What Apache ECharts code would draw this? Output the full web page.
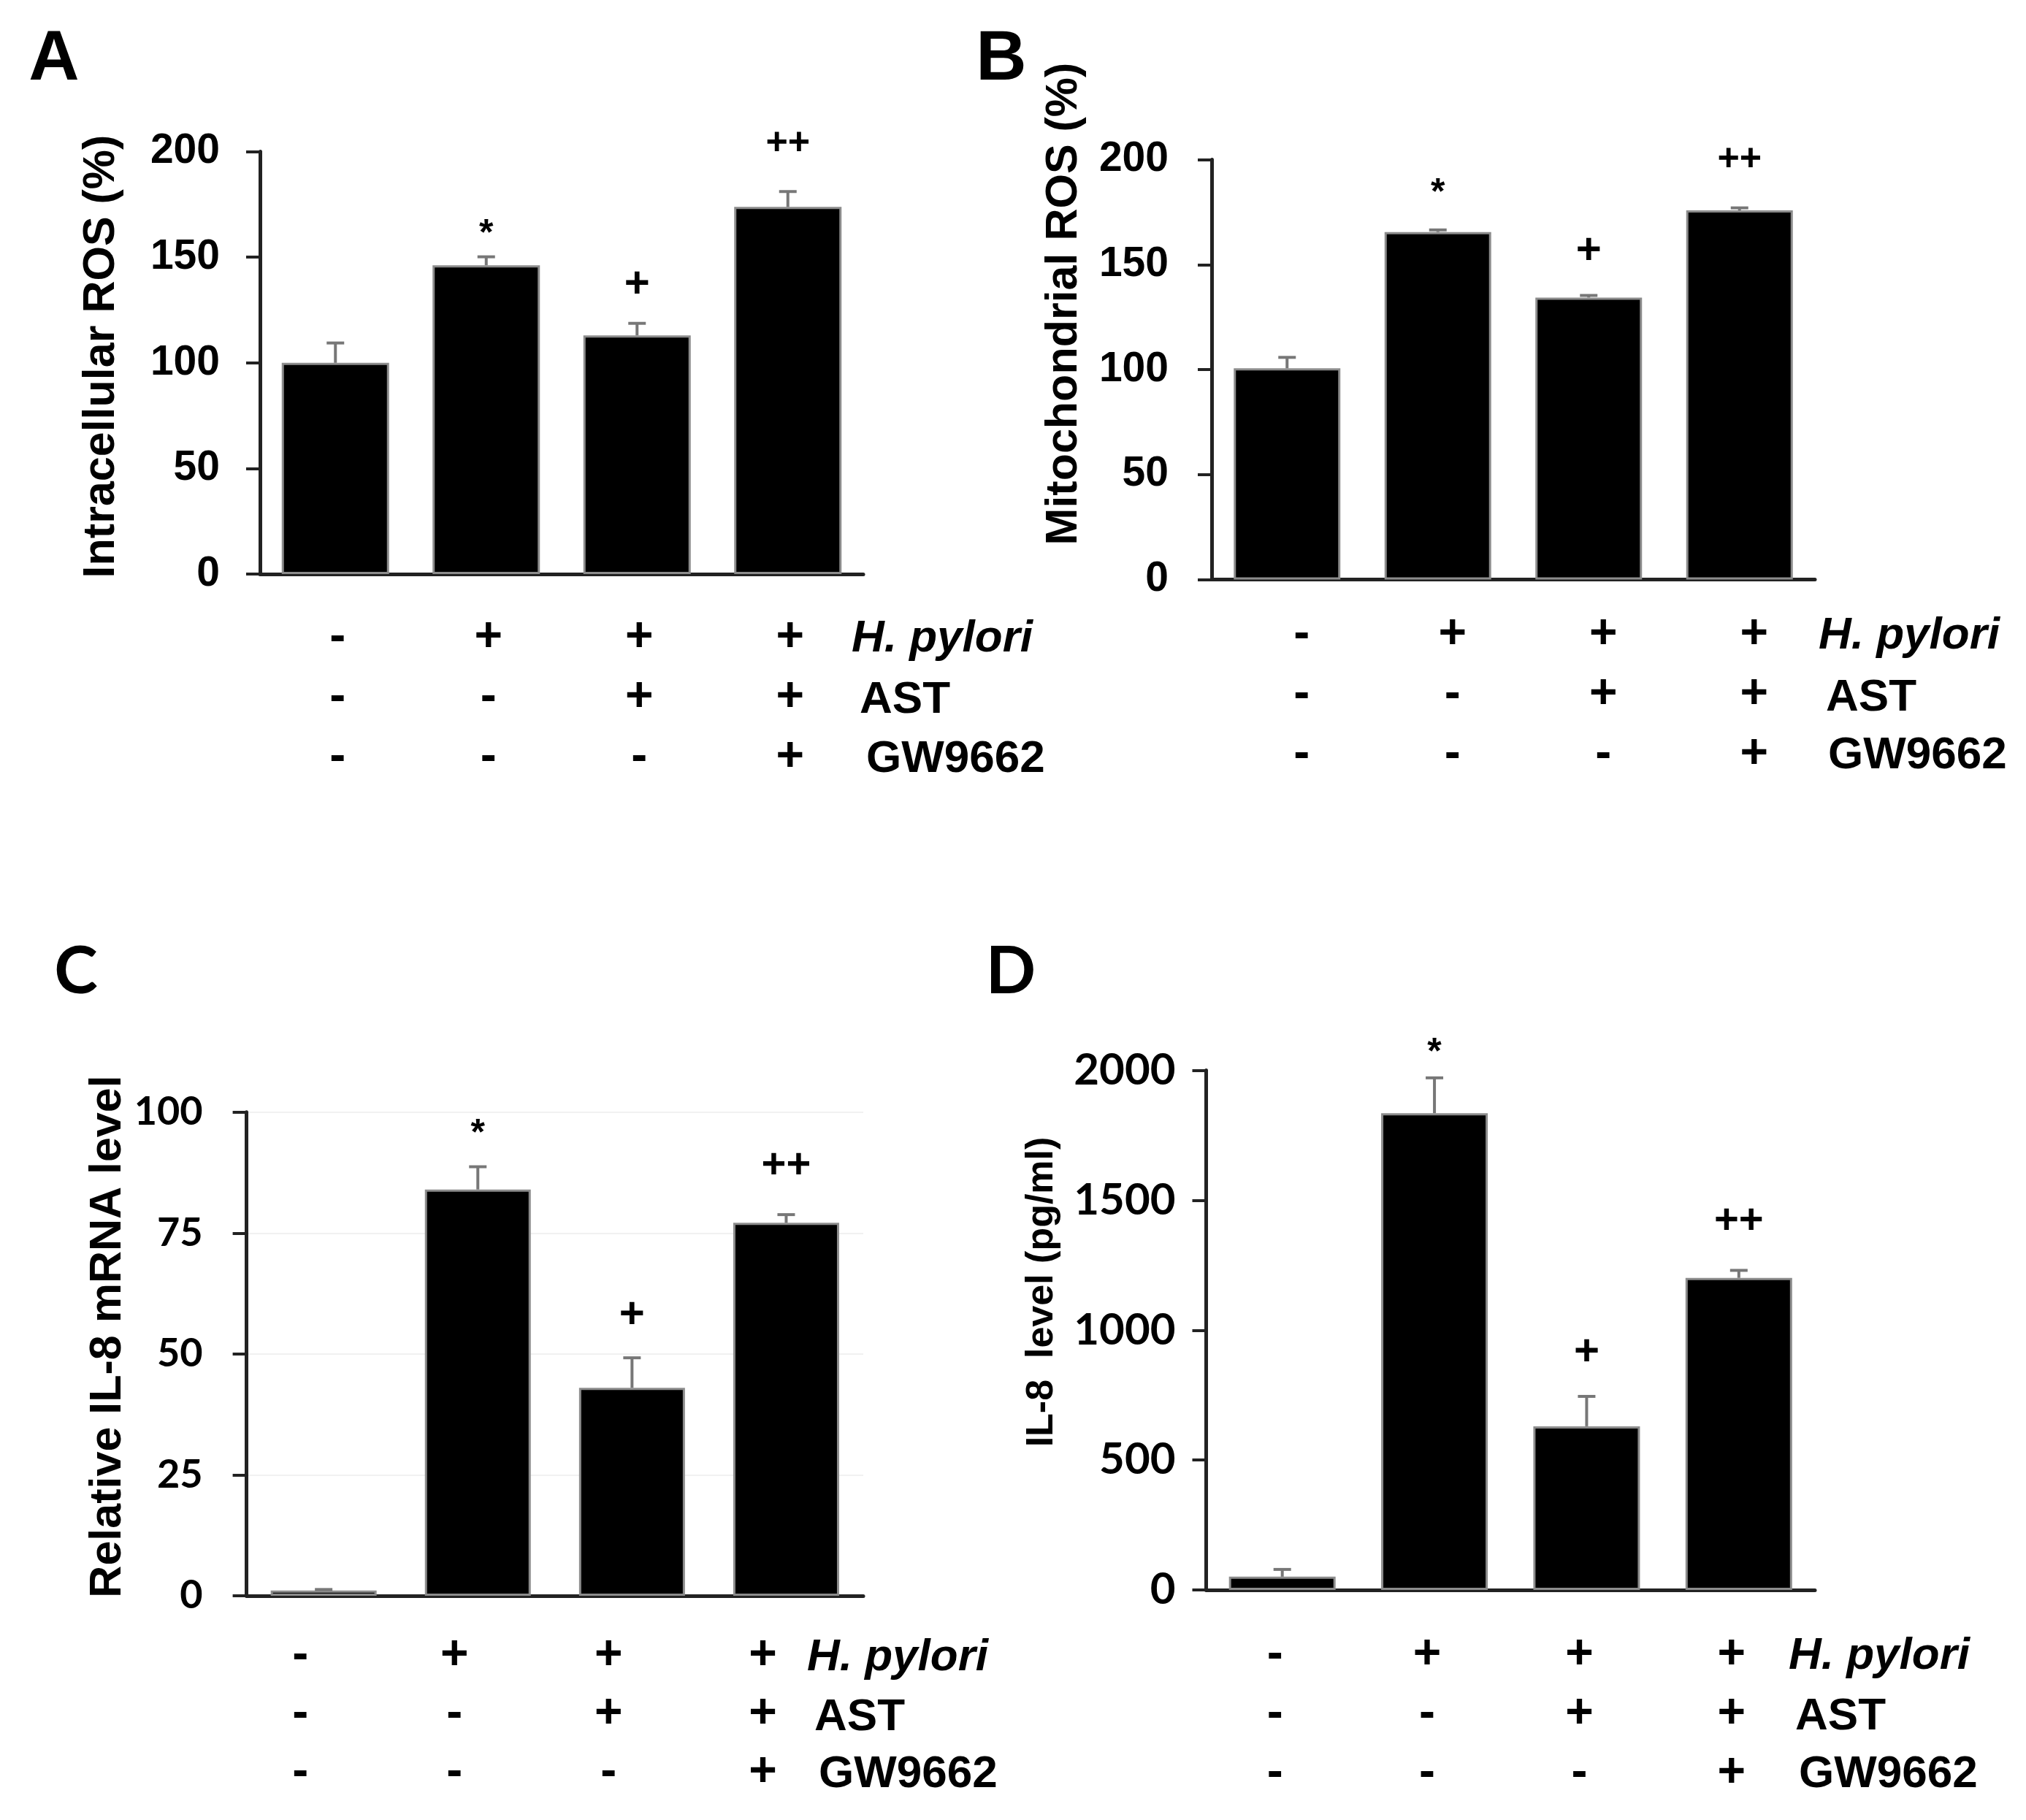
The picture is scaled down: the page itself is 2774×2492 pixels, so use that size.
<!DOCTYPE html>
<html>
<head>
<meta charset="utf-8">
<script src="https://cdn.jsdelivr.net/npm/echarts@6/dist/echarts.min.js"></script>
<style>
html,body{margin:0;padding:0;background:#fff;}
#chart{width:2774px;height:2492px;}
</style>
</head>
<body>
<div id="chart"></div>
<script>
// ---------- data ----------
const categories = ['Control', 'H. pylori', 'H. pylori + AST', 'H. pylori + AST + GW9662'];
const hpRow  = ['-', '+', '+', '+'];
const astRow = ['-', '-', '+', '+'];
const gwRow  = ['-', '-', '-', '+'];
const rowNames = ['H. pylori', 'AST', 'GW9662'];
const sigMarks = ['', '*', '+', '++'];

const intraROS       = [100, 146.2, 113, 173.8];
const intraROSErr    = [9.4, 4, 5.7, 7.3];
const mitoROS        = [100.6, 165.5, 134.3, 175.8];
const mitoROSErr     = [5.2, 1, 1, 1.2];
const il8mRNA        = [1.1, 84, 43, 77.1];
const il8mRNAErr     = [0.2, 4.7, 6.2, 1.7];
const il8Protein     = [51, 1835, 630, 1201];
const il8ProteinErr  = [28, 136, 115, 29];

const panelLetters = ['A', 'B', 'C', 'D'];
const yTitles = ['Intracellular ROS (%)', 'Mitochondrial ROS (%)', 'Relative IL-8 mRNA level', 'IL-8  level (pg/ml)'];
const yMax = [200, 200, 100, 2000];
const yInterval = [50, 50, 25, 500];

// ---------- layout / style ----------
const ARIAL = 'Liberation Sans, Arial, sans-serif';
const CALI = 'Lato, Liberation Sans, sans-serif';
const panels = [
  {values: intraROS, errs: intraROSErr, grid: {left: 356, top: 207.6, width: 826, height: 578.4}, barWidth: 147,
   tickFont: ARIAL, tickSize: 57, tickWeight: 'bold', tickMargin: 55, xMargin: 46, lineH: 82, dx: 3,
   letter: {x: 74, y: 83, font: 'bold 96px ' + ARIAL},
   ytitle: {x: 139, y: 488, font: 'bold 61px ' + ARIAL},
   rowLeft: [1166, 1177, 1186], rowY: [875, 959, 1040], ppSize: 52, starGap: 30, plusGap: 52},
  {values: mitoROS, errs: mitoROSErr, grid: {left: 1659, top: 218.5, width: 826, height: 575}, barWidth: 146,
   tickFont: ARIAL, tickSize: 57, tickWeight: 'bold', tickMargin: 59, xMargin: 34, lineH: 82, dx: 20,
   letter: {x: 1371, y: 83, font: 'bold 96px ' + ARIAL},
   ytitle: {x: 1457, y: 416, font: 'bold 61px ' + ARIAL},
   rowLeft: [2490, 2500, 2503], rowY: [871, 956, 1035], ppSize: 52, starGap: 50, plusGap: 60},
  {values: il8mRNA, errs: il8mRNAErr, grid: {left: 337.6, top: 1522.7, width: 844.4, height: 662.3}, barWidth: 145,
   tickFont: CALI, tickSize: 54, tickWeight: 'bold', tickMargin: 60, xMargin: 42, lineH: 80, dx: -32,
   letter: {x: 104, y: 1331, font: 'bold 90px ' + CALI},
   ytitle: {x: 148, y: 1830, font: 'bold 61px ' + ARIAL},
   rowLeft: [1105, 1115, 1121], rowY: [2270, 2352, 2430], ppSize: 58, starGap: 44, plusGap: 58},
  {values: il8Protein, errs: il8ProteinErr, grid: {left: 1651.5, top: 1465.5, width: 833.5, height: 711.5}, barWidth: 146,
   tickFont: CALI, tickSize: 60, tickWeight: 'bold', tickMargin: 42, xMargin: 48, lineH: 81, dx: -10,
   letter: {x: 1384, y: 1331, font: 'bold 90px ' + CALI},
   ytitle: {x: 1427, y: 1769, font: 'bold 52px ' + ARIAL},
   rowLeft: [2449, 2458, 2463], rowY: [2268, 2351, 2430], ppSize: 58, starGap: 34, plusGap: 60}
];

const grids = [], xAxes = [], yAxes = [], series = [], graphics = [];
panels.forEach((p, k) => {
  grids.push(Object.assign({containLabel: false}, p.grid));
  xAxes.push({
    gridIndex: k, type: 'category', data: categories,
    axisLine: {show: true, lineStyle: {color: '#222', width: 5}},
    axisTick: {show: false},
    axisLabel: {
      interval: 0, margin: p.xMargin, color: '#000',
      fontFamily: ARIAL, fontWeight: 'bold', fontSize: 66, lineHeight: p.lineH,
      padding: p.dx >= 0 ? [0, 0, 0, 2 * p.dx] : [0, -2 * p.dx, 0, 0],
      formatter: (v, i) => [hpRow[i], astRow[i], gwRow[i]].join('\n')
    }
  });
  yAxes.push({
    gridIndex: k, type: 'value', min: 0, max: yMax[k], interval: yInterval[k],
    axisLine: {show: true, lineStyle: {color: '#222', width: 5}},
    axisTick: {show: true, inside: false, length: 19, lineStyle: {color: '#222', width: 4}},
    splitLine: {show: k === 2, lineStyle: {color: '#f1f1f1', width: 2}},
    axisLabel: {margin: p.tickMargin, color: '#000', fontFamily: p.tickFont, fontSize: p.tickSize,
      fontWeight: p.tickWeight, formatter: v => String(v)}
  });
  series.push({
    type: 'bar', xAxisIndex: k, yAxisIndex: k, data: p.values, barWidth: p.barWidth,
    itemStyle: {color: '#000', borderColor: '#8c8c8c', borderWidth: 3}, z: 2, silent: true
  });
  series.push({
    type: 'custom', xAxisIndex: k, yAxisIndex: k, z: 3, silent: true,
    encode: {x: 0, y: 1},
    data: p.values.map((v, i) => [i, v, p.errs[i]]),
    renderItem: (params, api) => {
      const i = api.value(0), v = api.value(1), e = api.value(2);
      const base = api.coord([i, v]);
      const top = api.coord([i, v + e]);
      const cap = 12;
      const children = [
        {type: 'line', shape: {x1: base[0], y1: base[1], x2: top[0], y2: top[1]}, style: {stroke: '#777', lineWidth: 4}},
        {type: 'line', shape: {x1: top[0] - cap, y1: top[1], x2: top[0] + cap, y2: top[1]}, style: {stroke: '#777', lineWidth: 4}}
      ];
      const s = sigMarks[i];
      if (s) {
        const size = s === '*' ? 50 : (s === '+' ? 60 : p.ppSize);
        const gap = s === '*' ? p.starGap : (s === '+' ? p.plusGap : 66);
        children.push({type: 'text', style: {
          text: s, x: top[0], y: top[1] - gap, align: 'center', verticalAlign: 'middle',
          font: 'bold ' + size + 'px ' + ARIAL, fill: '#000'}});
      }
      return {type: 'group', children};
    }
  });
  graphics.push({type: 'text', x: p.letter.x, y: p.letter.y,
    style: {text: panelLetters[k], font: p.letter.font, fill: '#000', align: 'center', verticalAlign: 'middle'}});
  graphics.push({type: 'text', x: p.ytitle.x, y: p.ytitle.y, rotation: Math.PI / 2,
    style: {text: yTitles[k], font: p.ytitle.font, fill: '#000', align: 'center', verticalAlign: 'middle'}});
  rowNames.forEach((name, r) => {
    graphics.push({type: 'text', x: p.rowLeft[r], y: p.rowY[r],
      style: {text: name, font: (r === 0 ? 'italic bold ' : 'bold ') + '62px ' + ARIAL, fill: '#000', align: 'left', verticalAlign: 'middle'}});
  });
});

const chart = echarts.init(document.getElementById('chart'), null, {renderer: 'canvas'});
chart.setOption({
  backgroundColor: '#fff',
  animation: false,
  grid: grids, xAxis: xAxes, yAxis: yAxes, series: series, graphic: graphics
});
</script>
</body>
</html>
